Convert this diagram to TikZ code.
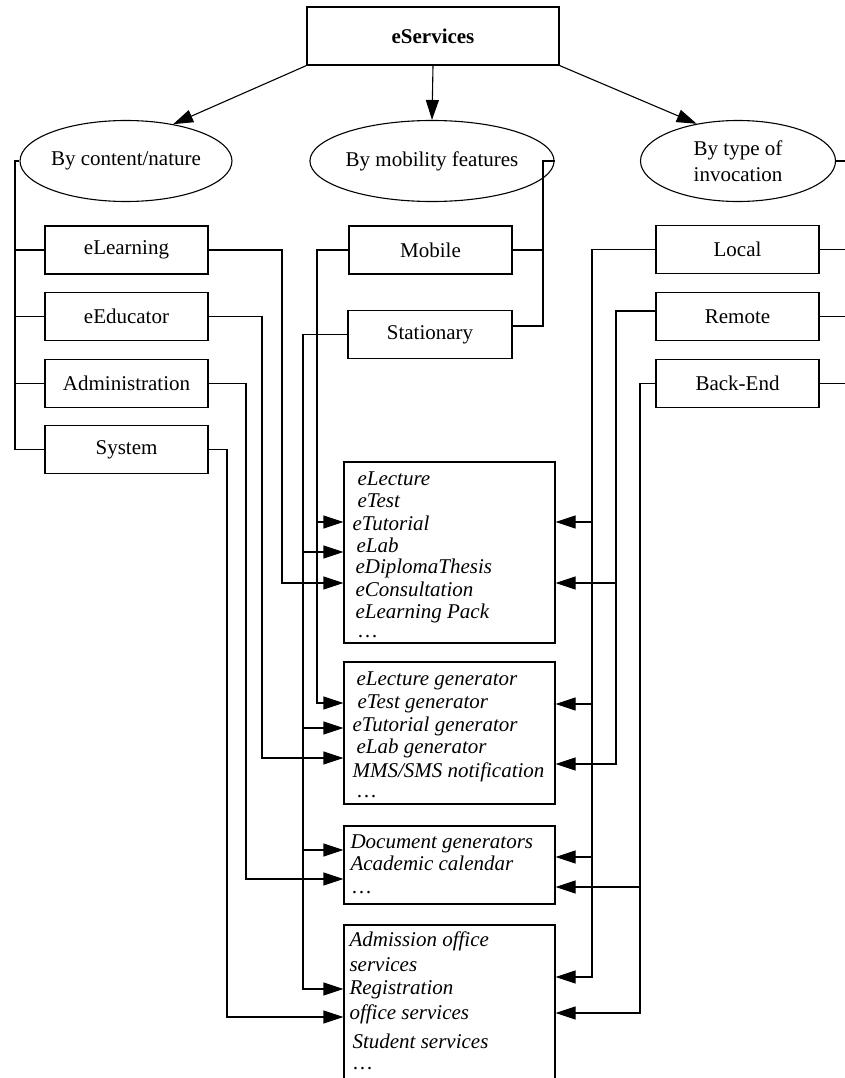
\documentclass[tikz,border=0pt]{standalone}
\usepackage{fontspec}
\setmainfont{Liberation Serif}
\usetikzlibrary{arrows.meta,shapes.geometric}
\begin{document}
\begin{tikzpicture}[x=1pt,y=-1pt,line width=1.1pt,
  every node/.style={font=\fontsize{21}{22}\selectfont},
  box/.style={draw,rectangle,inner sep=0pt,minimum width=163pt,minimum height=48pt},
  oval/.style={draw,ellipse,inner sep=0pt,minimum height=81pt},
  panel/.style={draw,rectangle,inner sep=0pt,minimum width=211pt},
  item/.style={anchor=base west,inner sep=0pt,font=\fontsize{21}{22}\selectfont\itshape},
  arr/.style={-{Triangle[length=20pt,width=13pt]}}]
\useasboundingbox (0,0) rectangle (845,1078);
\clip (0,0) rectangle (845,1078);

% root and the three classification criteria
\node[box,minimum width=252pt,minimum height=58pt,font=\fontsize{21}{22}\selectfont\bfseries] (top) at (433,36) {eServices};
\node[oval,minimum width=202pt] (byc) at (126,161) {By content/nature};
\node[oval,minimum width=204pt] (bym) at (432,161) {By mobility features};
\node[oval,minimum width=195pt,align=center] (byt) at (738,161) {By type of\\[4pt]invocation};

% categories
\node[box] (elearn) at (126.5,250) {eLearning};
\node[box] (eedu) at (126.5,316.5) {eEducator};
\node[box] (admin) at (126.5,383.5) {Administration};
\node[box] (sys) at (126.5,449.5) {System};
\node[box] (mob) at (430.5,250) {Mobile};
\node[box,minimum width=164pt] (stat) at (430,334.5) {Stationary};
\node[box] (loc) at (737.5,249.5) {Local};
\node[box] (rem) at (737.5,316.5) {Remote};
\node[box] (back) at (737.5,383.5) {Back-End};

% service groups
\node[panel,minimum height=181pt] (p1) at (449.5,552.5) {};
\node[panel,minimum height=142pt] (p2) at (449.5,733) {};
\node[panel,minimum height=78pt] (p3) at (449.5,865) {};
\node[panel,minimum height=200pt] (p4) at (449.5,1025) {};

\node[item] (a1) at (357,485) {eLecture};
\node[item] (a2) at (357,507) {eTest};
\node[item] (a3) at (352,530) {eTutorial};
\node[item] (a4) at (356,552) {eLab};
\node[item] (a5) at (355,573) {eDiplomaThesis};
\node[item] (a6) at (355,596) {eConsultation};
\node[item] (a7) at (355,618) {eLearning Pack};
\node[item] (a8) at (358,637) {…};

\node[item] (b1) at (356,685) {eLecture generator};
\node[item] (b2) at (357,708) {eTest generator};
\node[item] (b3) at (352,731) {eTutorial generator};
\node[item] (b4) at (356,753) {eLab generator};
\node[item] (b5) at (352,777) {MMS/SMS notification};
\node[item] (b6) at (357,797) {…};

\node[item] (c1) at (350,848) {Document generators};
\node[item] (c2) at (350,870) {Academic calendar};
\node[item] (c3) at (352,893) {…};

\node[item] (d1) at (349,946) {Admission office};
\node[item] (d2) at (349,971) {services};
\node[item] (d3) at (349,994) {Registration};
\node[item] (d4) at (349,1019) {office services};
\node[item] (d5) at (352,1048) {Student services};
\node[item] (d6) at (353,1069) {…};

% edge of the sheet for the stubs on the right
\coordinate (busA) at (15,0);
\coordinate (busB) at (543,0);
\coordinate (edge) at (850,0);

% root to criteria
\draw[arr] (top.south west) -- (byc.38);
\draw[arr] (top.south) -- (bym.north);
\draw[arr] (top.south east) -- (byt.138);

% content/nature bus
\draw (byc.west) -| (15,449.5) -- (sys.west);
\draw (elearn.west) -- (elearn.west -| busA);
\draw (eedu.west) -- (eedu.west -| busA);
\draw (admin.west) -- (admin.west -| busA);

% mobility bus
\draw (bym.east) -| (543,326) -- (stat.east |- 0,326);
\draw (mob.east) -- (mob.east -| busB);

% invocation stubs
\draw (byt.east) -- (byt.east -| edge);
\draw (loc.east) -- (loc.east -| edge);
\draw (rem.east) -- (rem.east -| edge);
\draw (back.east) -- (back.east -| edge);

% content categories to groups
\draw[arr] (elearn.east) -| (282,583) -- (p1.west |- 0,583);
\draw[arr] (eedu.east) -| (262,758) -- (p2.west |- 0,758);
\draw[arr] (admin.east) -| (246,879) -- (p3.west |- 0,879);
\draw[arr] (sys.east) -| (227,1017) -- (p4.west |- 0,1017);

% mobility categories to groups
\draw[arr] (mob.west) -| (317,703) -- (p2.west |- 0,703);
\draw[arr] (317,522) -- (p1.west |- 0,522);
\draw[arr] (stat.west) -| (303,989) -- (p4.west |- 0,989);
\draw[arr] (303,552) -- (p1.west |- 0,552);
\draw[arr] (303,728) -- (p2.west |- 0,728);
\draw[arr] (303,850) -- (p3.west |- 0,850);

% invocation categories to groups
\draw[arr] (loc.west) -| (592,977) -- (p4.east |- 0,977);
\draw[arr] (592,522) -- (p1.east |- 0,522);
\draw[arr] (592,704) -- (p2.east |- 0,704);
\draw[arr] (592,857) -- (p3.east |- 0,857);
\draw[arr] (rem.west |- 0,311) -| (616,764) -- (p2.east |- 0,764);
\draw[arr] (616,583) -- (p1.east |- 0,583);
\draw[arr] (back.west) -| (640,1013) -- (p4.east |- 0,1013);
\draw[arr] (640,887) -- (p3.east |- 0,887);
\end{tikzpicture}
\end{document}
